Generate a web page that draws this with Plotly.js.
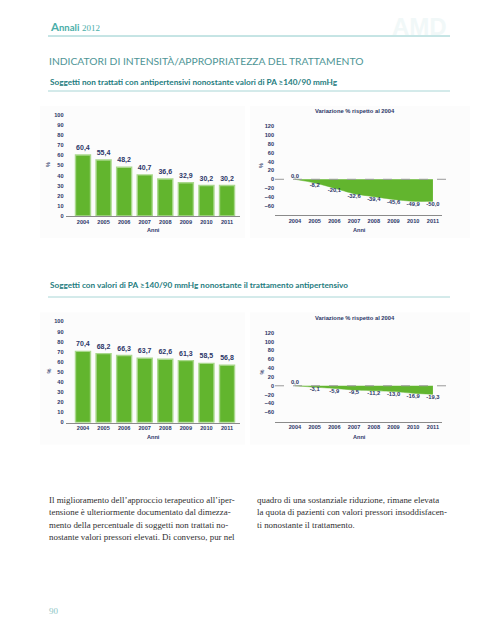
<!DOCTYPE html>
<html>
<head>
<meta charset="utf-8">
<script src="https://cdn.plot.ly/plotly-3.0.1.min.js"></script>
<style>
  html, body { margin: 0; padding: 0; background: #ffffff; }
  #page { width: 498px; height: 640px; }
</style>
</head>
<body>
<div id="page"></div>
<script>
// ---------- DATA ----------
const years = ['2004', '2005', '2006', '2007', '2008', '2009', '2010', '2011'];
const untreatedPct = [60.4, 55.4, 48.2, 40.7, 36.6, 32.9, 30.2, 30.2];
const untreatedVar = [0.0, -8.2, -20.1, -32.6, -39.4, -45.6, -49.9, -50.0];
const uncontrolledPct = [70.4, 68.2, 66.3, 63.7, 62.6, 61.3, 58.5, 56.8];
const uncontrolledVar = [0.0, -3.1, -5.9, -9.5, -11.2, -13.0, -16.9, -19.3];
const pctTicks = [0, 10, 20, 30, 40, 50, 60, 70, 80, 90, 100];
const varTicks = [-60, -40, -20, 0, 20, 40, 60, 80, 100, 120];

const pageYear = '2012';
const sectionTitle = 'INDICATORI DI INTENSITÀ/APPROPRIATEZZA DEL TRATTAMENTO';
const subtitle1 = 'Soggetti non trattati con antipertensivi nonostante valori di PA ≥140/90 mmHg';
const subtitle2 = 'Soggetti con valori di PA ≥140/90 mmHg nonostante il trattamento antipertensivo';
const varTitle = 'Variazione % rispetto al 2004';
const xTitle = 'Anni';
const yTitle = '%';
const leftLines = [
  'Il miglioramento dell’approccio terapeutico all’iper-',
  'tensione è ulteriormente documentato dal dimezza-',
  'mento della percentuale di soggetti non trattati no-',
  'nostante valori pressori elevati. Di converso, pur nel'
];
const rightLines = [
  'quadro di una sostanziale riduzione, rimane elevata',
  'la quota di pazienti con valori pressori insoddisfacen-',
  'ti nonostante il trattamento.'
];
const pageNumber = '90';

// ---------- STYLE / LAYOUT HELPERS ----------
const W = 498, H = 640;
const fx = px => px / W;
const fy = py => 1 - py / H;
const fmt = v => v.toFixed(1).replace('.', ',');

const NAVY = '#2c3768';
const GREEN = '#62b52e';
const TEAL_DARK = '#1f7d80';
const LINE_TEAL = '#8ccaca';
const CHART_FONT = 'Liberation Sans, Arial, sans-serif';
const tickFont = { family: CHART_FONT, size: 5.6, color: NAVY, weight: 700 };

const OFF = 206.5; // vertical offset of second row of charts

function barAxes(n, top) {
  const xa = {
    domain: [fx(65.5), fx(240.4)], anchor: 'y' + n, type: 'category',
    range: [-0.85, 7.65], showline: true, linecolor: '#8a8a8a', linewidth: 1,
    ticks: '', showgrid: false, zeroline: false, tickfont: tickFont
  };
  const ya = {
    domain: [fy(top + 101), fy(top)], anchor: 'x' + n, range: [0, 100],
    tickvals: pctTicks, showline: false, ticks: '', showgrid: false,
    zeroline: false, tickfont: tickFont, ticklabelstandoff: 1
  };
  return [xa, ya];
}
function areaAxes(n, top) {
  const xa = {
    domain: [fx(275), fx(442)], anchor: 'y' + n, type: 'category',
    range: [-1.01, 7.46], showline: true, linecolor: '#8a8a8a', linewidth: 1,
    ticks: '', showgrid: false, zeroline: false, tickfont: tickFont
  };
  const ya = {
    domain: [fy(top + 97), fy(top)], anchor: 'x' + n, range: [-81, 139],
    tickvals: varTicks, showline: false, ticks: '', showgrid: false,
    zeroline: false, tickfont: tickFont, ticklabelstandoff: 0
  };
  return [xa, ya];
}

const [x1, y1] = barAxes('', 115);
const [x2, y2] = areaAxes('2', 118);
const [x3, y3] = barAxes('3', 115 + OFF);
const [x4, y4] = areaAxes('4', 118 + OFF);
x1.anchor = 'y'; y1.anchor = 'x';

function barTrace(vals, xa, ya) {
  return {
    type: 'bar', x: years, y: vals, xaxis: xa, yaxis: ya,
    width: 0.73,
    marker: { color: GREEN, line: { color: '#a9d88c', width: 1.4 } },
    text: vals.map(fmt), textposition: 'outside', cliponaxis: false,
    textfont: { family: CHART_FONT, size: 7, color: NAVY, weight: 700 },
    showlegend: false
  };
}
function areaTrace(vals, xa, ya) {
  return {
    type: 'scatter', mode: 'lines+text', x: years, y: vals, xaxis: xa, yaxis: ya,
    line: { color: GREEN, width: 0.5, shape: 'spline', smoothing: 0.8 },
    fill: 'tozeroy', fillcolor: GREEN,
    text: vals.map(fmt),
    textposition: vals.map(v => v === 0 ? 'top center' : 'bottom center'),
    cliponaxis: false,
    textfont: { family: CHART_FONT, size: 5.8, color: NAVY, weight: 700 },
    showlegend: false
  };
}

const data = [
  barTrace(untreatedPct, 'x', 'y'),
  areaTrace(untreatedVar, 'x2', 'y2'),
  barTrace(uncontrolledPct, 'x3', 'y3'),
  areaTrace(uncontrolledVar, 'x4', 'y4')
];

function ann(text, px, py, opts) {
  return Object.assign({
    text: text, xref: 'paper', yref: 'paper', x: fx(px), y: fy(py),
    xanchor: 'left', yanchor: 'middle', showarrow: false
  }, opts || {});
}

const annotations = [];
// watermark + header
annotations.push(ann('<b>AMD</b>', 419, 26, { xanchor: 'center',
  font: { family: 'Liberation Sans, Arial', size: 24, color: '#f1f8f8' } }));
annotations.push(ann('<span style="font-size:11.5px">A</span>nnali', 48, 30,
  { yanchor: 'bottom', yshift: -5, font: { family: 'Lato', size: 9.5, color: '#4aaea9', weight: 700 } }));
annotations.push(ann(pageYear, 80, 30,
  { yanchor: 'bottom', yshift: -5, font: { family: 'Liberation Serif', size: 9, color: '#4aaea9' } }));
annotations.push(ann(sectionTitle, 47, 61,
  { font: { family: 'Lato', size: 10.3, color: '#4e9596' } }));
annotations.push(ann(subtitle1, 48, 82,
  { font: { family: 'Lato', size: 8.2, color: TEAL_DARK, weight: 700 } }));
annotations.push(ann(subtitle2, 48, 285,
  { font: { family: 'Lato', size: 8.2, color: TEAL_DARK, weight: 700 } }));

// chart titles & axis titles
[0, OFF].forEach(o => {
  annotations.push(ann(varTitle, 355, 111 + o, { xanchor: 'center',
    font: { family: CHART_FONT, size: 5.8, color: NAVY, weight: 700 } }));
  [153, 359].forEach(cx => annotations.push(ann(xTitle, cx, 230 + o, { xanchor: 'center',
    font: { family: CHART_FONT, size: 5.6, color: NAVY, weight: 700 } })));
  annotations.push(ann(yTitle, 48, 165 + o, { xanchor: 'center', textangle: -90,
    font: { family: CHART_FONT, size: 5.6, color: NAVY, weight: 700 } }));
  annotations.push(ann(yTitle, 261, 166 + o, { xanchor: 'center', textangle: -90,
    font: { family: CHART_FONT, size: 5.6, color: NAVY, weight: 700 } }));
});

// paragraph text
const bodyFont = { family: 'Liberation Serif, serif', size: 8.9, color: '#2f2f2f' };
leftLines.forEach((t, i) => annotations.push(ann(t, 47, 500 + i * 12.3, { font: bodyFont })));
rightLines.forEach((t, i) => annotations.push(ann(t, 255, 500 + i * 12.3, { font: bodyFont })));
annotations.push(ann(pageNumber, 47, 611, { font: { family: 'Liberation Serif', size: 9, color: '#8cc6c6' } }));

const panel = (x0, x1p, y0, y1p) => ({ type: 'rect', xref: 'paper', yref: 'paper',
  x0: fx(x0), x1: fx(x1p), y0: fy(y1p), y1: fy(y0), fillcolor: '#fcfcfc', line: { width: 0 }, layer: 'below' });

const shapes = [
  panel(40, 245, 106, 238),
  panel(250, 470, 106, 238),
  panel(40, 245, 106 + OFF, 238 + OFF),
  panel(250, 470, 106 + OFF, 238 + OFF),
  // header rules
  { type: 'line', xref: 'paper', yref: 'paper', x0: fx(48), x1: fx(450), y0: fy(36), y1: fy(36),
    line: { color: LINE_TEAL, width: 1 } },
  { type: 'line', xref: 'paper', yref: 'paper', x0: fx(48), x1: fx(450), y0: fy(91), y1: fy(91),
    line: { color: '#a9d6d6', width: 1 } },
  { type: 'line', xref: 'paper', yref: 'paper', x0: fx(48), x1: fx(450), y0: fy(297), y1: fy(297),
    line: { color: '#a9d6d6', width: 1 } },
  // dashed zero lines
  { type: 'line', xref: 'paper', yref: 'y2', x0: fx(275), x1: fx(450), y0: 0, y1: 0,
    line: { color: '#9a9a9a', width: 1, dash: 'dash' }, layer: 'above' },
  { type: 'line', xref: 'paper', yref: 'y4', x0: fx(275), x1: fx(450), y0: 0, y1: 0,
    line: { color: '#9a9a9a', width: 1, dash: 'dash' }, layer: 'above' }
];

const layout = {
  width: W, height: H,
  margin: { l: 0, r: 0, t: 0, b: 0 },
  paper_bgcolor: '#ffffff', plot_bgcolor: 'rgba(0,0,0,0)',
  showlegend: false,
  xaxis: x1, yaxis: y1, xaxis2: x2, yaxis2: y2, xaxis3: x3, yaxis3: y3, xaxis4: x4, yaxis4: y4,
  annotations: annotations,
  shapes: shapes,
  font: { family: CHART_FONT }
};

Plotly.newPlot('page', data, layout, { displayModeBar: false, staticPlot: true });
</script>
</body>
</html>
